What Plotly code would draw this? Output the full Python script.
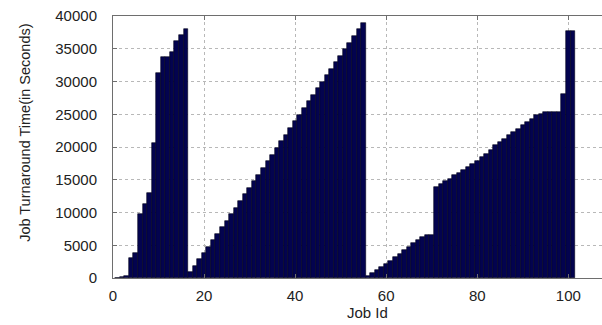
import plotly.graph_objects as go

job_ids = list(range(1, 102))
turnaround = [
    0, 80, 250, 3000, 3850, 9700, 11300, 12950, 20600, 31300,
    33700, 33800, 34450, 36250, 37150, 38050,
    900, 1900, 2900, 3850, 4800, 5800, 6750, 7750, 8750, 9800,
    10700, 11700, 12750, 13750, 14800, 15800, 16800, 17850, 18850, 19900,
    20900, 21900, 22900, 23900, 24950, 25950, 26950, 27950, 28950, 29950,
    30950, 31950, 32950, 33950, 34950, 35950, 36950, 37950, 38950,
    300, 700, 1150, 1650, 2150, 2650, 3150, 3700, 4250, 4800,
    5300, 5800, 6250, 6500, 6500,
    13900, 14380, 14790, 15150, 15650, 16000, 16510, 16920, 17330, 17840,
    18450, 18860, 19470, 20230, 20740, 21250, 21760, 22270, 22780, 23290,
    23800, 24310, 24810, 25070, 25320, 25420, 25420, 25420, 28020, 37700, 37700,
]
x_ticks = [0, 20, 40, 60, 80, 100]
y_ticks = [0, 5000, 10000, 15000, 20000, 25000, 30000, 35000, 40000]
x_title = "Job Id"
y_title = "Job Turnaround Time(in Seconds)"

font_family = "Liberation Sans, Arial, sans-serif"

fig = go.Figure(go.Bar(
    x=job_ids, y=turnaround,
    marker=dict(color="#03034f", line=dict(color="#000018", width=0.6)),
    width=1.0,
))

fig.update_layout(
    width=602, height=325,
    margin=dict(l=113, r=0, t=16, b=47, pad=0),
    paper_bgcolor="white", plot_bgcolor="white",
    showlegend=False, bargap=0,
    font=dict(family=font_family, size=15, color="#222"),
    annotations=[
        dict(text=x_title, xref="paper", yref="paper", x=0.52, y=0,
             yshift=-34, xanchor="center", yanchor="middle", showarrow=False,
             font=dict(size=15)),
        dict(text=y_title, xref="paper", yref="paper", x=0, y=0.554,
             xshift=-88, xanchor="center", yanchor="middle", showarrow=False,
             textangle=-90, font=dict(size=14.5)),
    ],
)
fig.update_xaxes(
    range=[0, 107.4], tickvals=x_ticks, ticktext=[str(v) for v in x_ticks],
    showline=True, linecolor="#6e6e6e", linewidth=1, mirror="ticks",
    ticks="inside", ticklen=4, tickcolor="#6e6e6e",
    showgrid=True, gridcolor="#b8b8b8", gridwidth=1, griddash="dot",
    zeroline=False, ticklabelstandoff=4, automargin=False,
)
fig.update_yaxes(
    range=[0, 40000], tickvals=y_ticks, ticktext=[str(v) for v in y_ticks],
    showline=True, linecolor="#6e6e6e", linewidth=1, mirror=False,
    ticks="inside", ticklen=4, tickcolor="#6e6e6e",
    showgrid=True, gridcolor="#b8b8b8", gridwidth=1, griddash="dot",
    zeroline=False, ticklabelstandoff=12, automargin=False,
)

fig.write_html("out.html", config={"displayModeBar": False},
               post_script="document.body.style.margin='0';document.body.style.overflow='hidden';")
